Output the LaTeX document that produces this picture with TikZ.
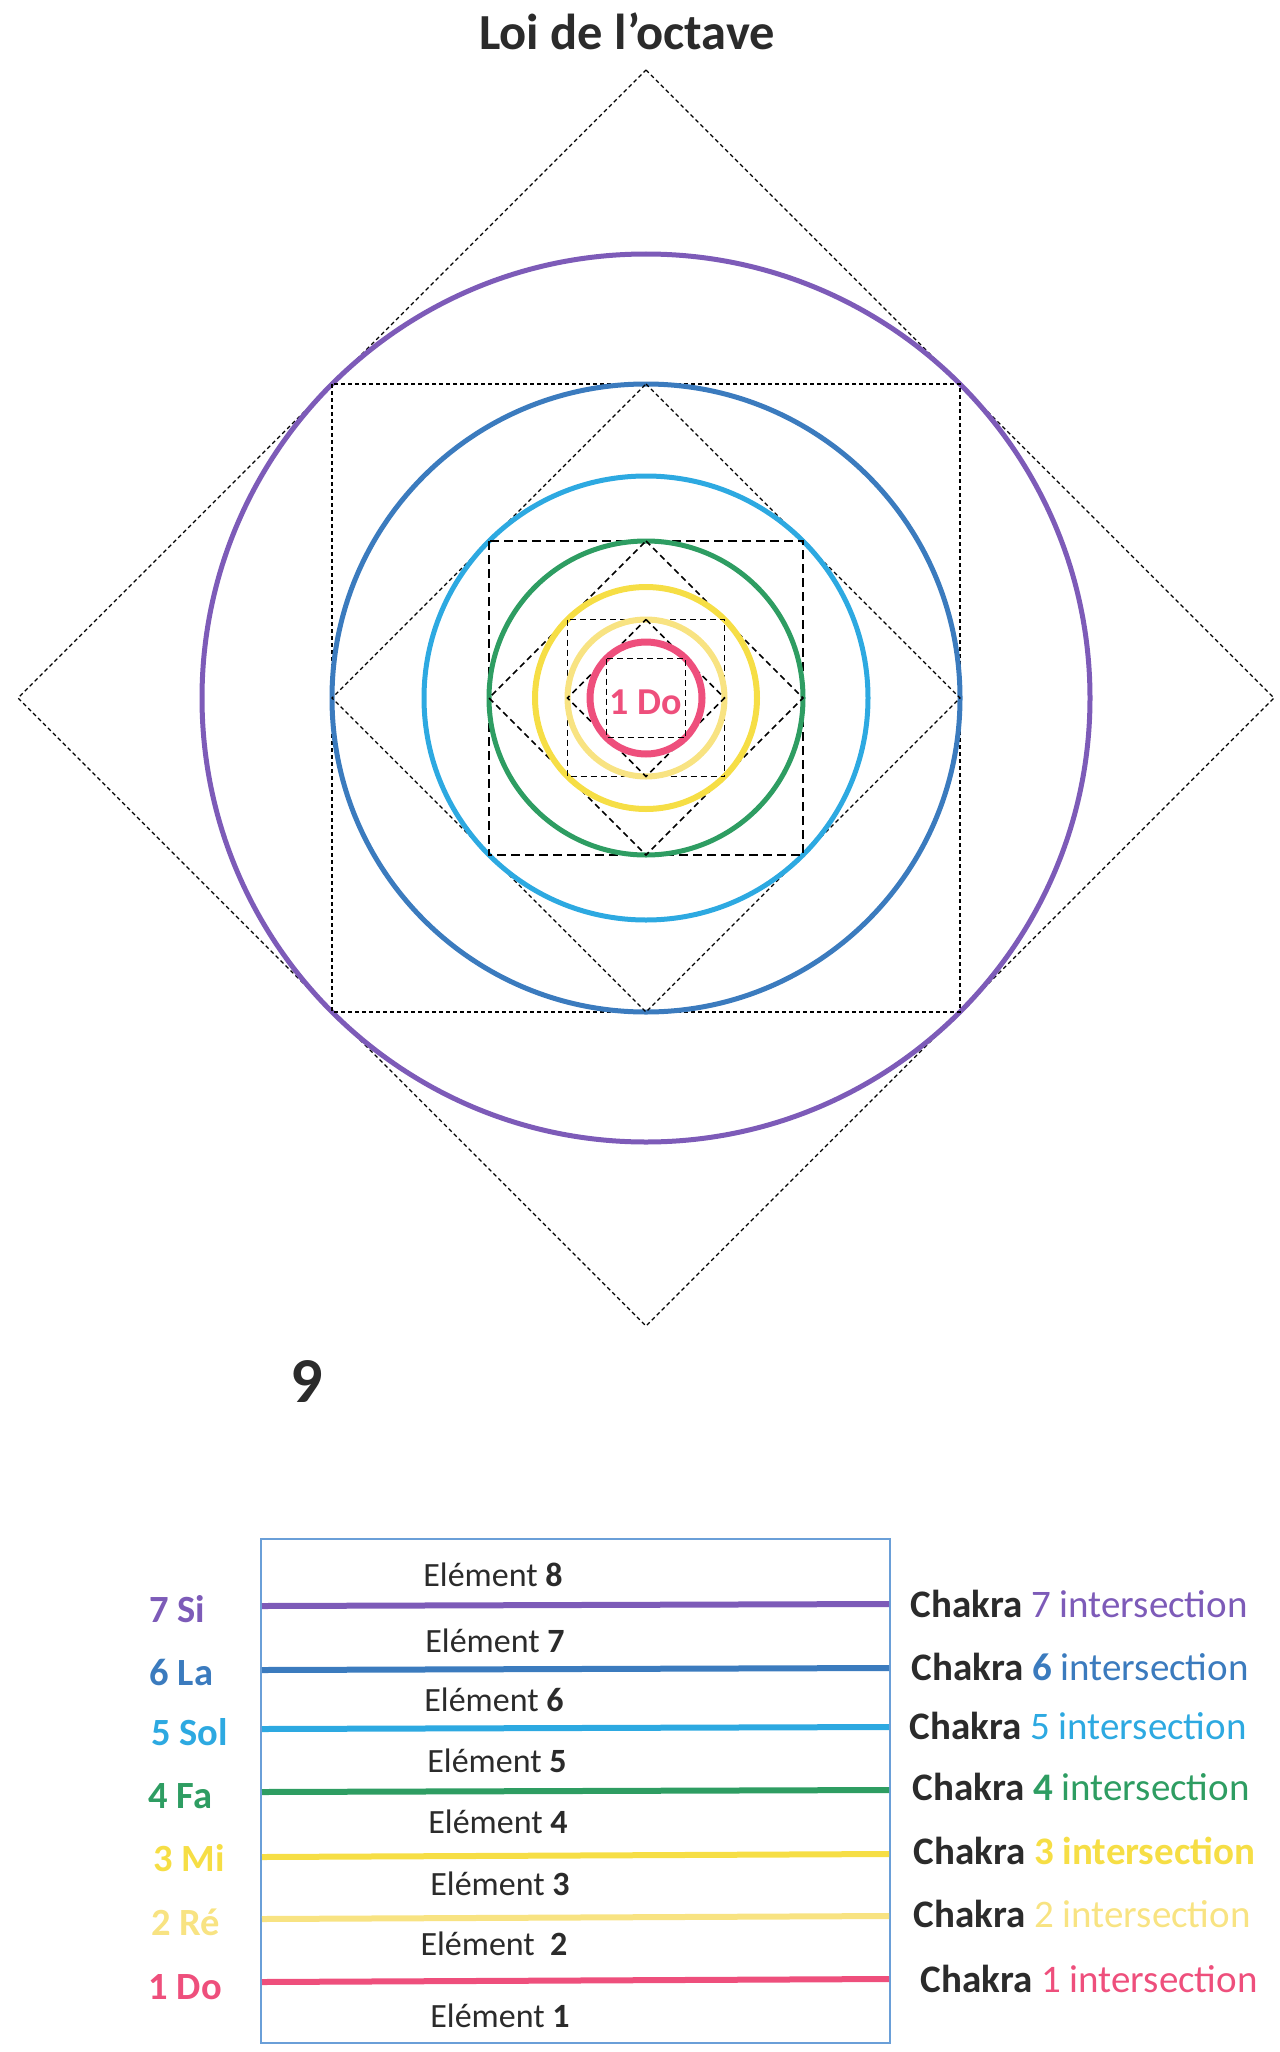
\documentclass[tikz,border=0pt]{standalone}
\usepackage{fontspec}
\setmainfont{Carlito}
\definecolor{cSi}{HTML}{7D5BB8}
\definecolor{cLa}{HTML}{3B7BBE}
\definecolor{cSol}{HTML}{2DA9E1}
\definecolor{cFa}{HTML}{2E9D62}
\definecolor{cMi}{HTML}{F6DE45}
\definecolor{cRe}{HTML}{F8E382}
\definecolor{cDo}{HTML}{EE4F7C}
\definecolor{ink}{HTML}{2B2B2B}
\definecolor{frame}{HTML}{6A9FD8}
\begin{document}
\begin{tikzpicture}[x=1pt,y=-1pt,
  thindash/.style={draw=black, line width=1.1pt, dash pattern=on 4pt off 3pt},
  middash/.style={draw=black, line width=1.6pt, dash pattern=on 6pt off 4pt},
  thickdash/.style={draw=black, line width=2.4pt, dash pattern=on 9pt off 5pt},
  ring/.style={line width=5pt},
  band/.style={line width=6pt},
  elem/.style={font=\fontsize{34}{38}\selectfont, text=ink},
  note/.style={font=\fontsize{38.5}{42}\selectfont\bfseries, anchor=west},
  chak/.style={font=\fontsize{39}{42}\selectfont, anchor=west, text=ink}]
\useasboundingbox (0,0) rectangle (1279,2052);
\node[font=\fontsize{50.5}{54}\selectfont\bfseries, text=ink] (title) at (627,31) {Loi de l’octave};
\begin{scope}[shift={(646,698)}]
  % outer diamond
  \draw[thindash] (0,-628) -- (628,0) -- (0,628) -- (-628,0) -- cycle;
  \draw[ring, cSi] (0,0) circle (444);
  \draw[thindash] (-314,-314) rectangle (314,314);
  \draw[ring, cLa] (0,0) circle (314);
  \draw[thindash] (0,-314) -- (314,0) -- (0,314) -- (-314,0) -- cycle;
  \draw[ring, cSol] (0,0) circle (222);
  \draw[thickdash] (-157,-157) rectangle (157,157);
  \draw[ring, cFa] (0,0) circle (157);
  \draw[middash] (0,-157) -- (157,0) -- (0,157) -- (-157,0) -- cycle;
  \draw[ring, cMi, line width=6pt] (0,0) circle (111);
  \draw[middash] (-78.5,-78.5) rectangle (78.5,78.5);
  \draw[ring, cRe, line width=6pt] (0,0) circle (78.5);
  \draw[middash] (0,-78.5) -- (78.5,0) -- (0,78.5) -- (-78.5,0) -- cycle;
  \draw[ring, cDo, line width=7pt] (0,0) circle (56);
  \draw[middash] (-39.5,-39.5) rectangle (39.5,39.5);
  \node[font=\fontsize{38}{40}\selectfont\bfseries, text=cDo] (do) at (0,4) {1 Do};
\end{scope}
\node[font=\fontsize{64}{66}\selectfont\bfseries, text=ink] (nine) at (307,1381) {9};
% table
\draw[frame, line width=1.6pt] (261,1539) rectangle (890,2043);
\draw[band, cSi]  (262,1606) -- (889,1604);
\draw[band, cLa]  (262,1670) -- (889,1668);
\draw[band, cSol] (262,1729) -- (889,1727);
\draw[band, cFa]  (262,1792) -- (889,1790);
\draw[band, cMi]  (262,1857) -- (889,1854);
\draw[band, cRe]  (262,1919) -- (889,1916);
\draw[band, cDo]  (262,1982) -- (889,1979);
\node[elem] (e8) at (493,1575) {Elément \textbf{8}};
\node[elem] (e7) at (495,1641) {Elément \textbf{7}};
\node[elem] (e6) at (494,1700) {Elément \textbf{6}};
\node[elem] (e5) at (497,1761) {Elément \textbf{5}};
\node[elem] (e4) at (498,1822) {Elément \textbf{4}};
\node[elem] (e3) at (500,1884) {Elément \textbf{3}};
\node[elem] (e2) at (494,1944) {Elément\ \ \textbf{2}};
\node[elem] (e1) at (500,2016) {Elément \textbf{1}};
% left notes
\node[note, text=cSi]  (si)  at (146,1609) {7 Si};
\node[note, text=cLa]  (la)  at (146,1672) {6 La};
\node[note, text=cSol] (sol) at (148,1732) {5 Sol};
\node[note, text=cFa]  (fa)  at (145,1796) {4 Fa};
\node[note, text=cMi]  (mi)  at (150,1858) {3 Mi};
\node[note, text=cRe]  (re)  at (148,1922) {2 Ré};
\node[note, text=cDo]  (dol) at (145,1987) {1 Do};
% right notes
\node[chak] (k7) at (907,1604) {\textbf{Chakra} \textcolor{cSi}{7 intersection}};
\node[chak] (k6) at (908,1667) {\textbf{Chakra} \textcolor{cLa}{\textbf{6} intersection}};
\node[chak] (k5) at (906,1726) {\textbf{Chakra} \textcolor{cSol}{5 intersection}};
\node[chak] (k4) at (909,1787) {\textbf{Chakra} \textcolor{cFa}{\textbf{4} intersection}};
\node[chak] (k3) at (910,1851) {\textbf{Chakra} \textcolor{cMi}{\textbf{3 intersection}}};
\node[chak] (k2) at (910,1914) {\textbf{Chakra} \textcolor{cRe}{2 intersection}};
\node[chak] (k1) at (917,1979) {\textbf{Chakra} \textcolor{cDo}{1 intersection}};
\end{tikzpicture}
\end{document}
